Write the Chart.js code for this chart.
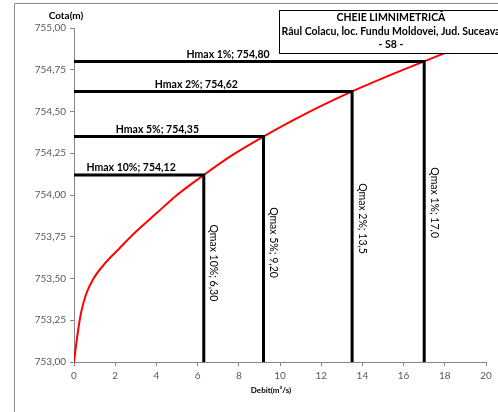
<!DOCTYPE html>
<html>
<head>
<meta charset="utf-8">
<script src="https://cdn.jsdelivr.net/npm/chart.js@4.4.0/dist/chart.umd.min.js"></script>
<style>
  html, body { margin: 0; padding: 0; background: #fff; }
  #wrap { width: 498px; height: 412px; }
</style>
</head>
<body>
<div id="wrap"><canvas id="cheie" width="498" height="412"></canvas></div>
<script>
// rating curve H = f(Q)
const curveQ = [0, 0.1, 0.2, 0.35, 0.6, 0.95, 1.5, 2.2, 3.0, 4.0, 5.0, 6.3, 7.7, 9.2, 11.3, 13.5, 15.0, 17.0, 18.0];
const curveH = [753.00, 753.10, 753.19, 753.30, 753.41, 753.50, 753.59, 753.68, 753.78, 753.89, 754.00, 754.12, 754.24, 754.35, 754.49, 754.62, 754.70, 754.80, 754.85];

// design floods
const probs = ['1%', '2%', '5%', '10%'];
const qmax = [17.0, 13.5, 9.20, 6.30];
const qDecimals = [1, 1, 2, 2];
const hmax = [754.80, 754.62, 754.35, 754.12];

const xTicks = { min: 0, max: 20, step: 2 };
const yTicks = { min: 753, max: 755, step: 0.25 };

const titleLines = ['CHEIE LIMNIMETRICĂ', 'Râul Colacu, loc. Fundu Moldovei, Jud. Suceava', '- S8 -'];

const FONT = 'Lato, "Liberation Sans", sans-serif';
const fmt = (v, d) => v.toFixed(d).replace('.', ',');

const datasets = [{
  data: curveQ.map((q, i) => ({ x: q, y: curveH[i] })),
  showLine: true,
  borderColor: '#ff0000',
  borderWidth: 2,
  pointRadius: 0,
  cubicInterpolationMode: 'monotone',
  order: 2
}];
probs.forEach((p, i) => {
  datasets.push({
    data: [{ x: 0, y: hmax[i] }, { x: qmax[i], y: hmax[i] }, { x: qmax[i], y: yTicks.min }],
    showLine: true,
    borderColor: '#000',
    borderWidth: 3,
    pointRadius: 0,
    tension: 0,
    borderJoinStyle: 'miter',
    order: 1
  });
});

const decor = {
  id: 'decor',
  beforeDraw(chart) {
    const c = chart.ctx;
    c.save();
    c.fillStyle = '#fff';
    c.fillRect(0, 0, chart.width, chart.height);
    // outer frame
    c.strokeStyle = '#8c8c8c';
    c.lineWidth = 1;
    c.beginPath();
    c.moveTo(14.5, chart.height);
    c.lineTo(14.5, 3.5);
    c.lineTo(chart.width, 3.5);
    c.stroke();
    c.restore();
  },
  afterDatasetsDraw(chart) {
    const c = chart.ctx;
    const xs = chart.scales.x, ys = chart.scales.y;
    const area = chart.chartArea;
    c.save();
    c.fillStyle = '#000';

    // Hmax labels above the horizontal lines
    c.font = 'bold 10.5px ' + FONT;
    c.textAlign = 'center';
    c.textBaseline = 'middle';
    probs.forEach((p, i) => {
      c.fillText('Hmax ' + p + '; ' + fmt(hmax[i], 2), xs.getPixelForValue(qmax[i] * 0.44), ys.getPixelForValue(hmax[i]) - 7);
    });

    // Qmax labels along the vertical lines
    c.font = '10.5px ' + FONT;
    probs.forEach((p, i) => {
      const px = xs.getPixelForValue(qmax[i]) + 10;
      const py = ys.getPixelForValue(yTicks.min + (hmax[i] - yTicks.min) * 0.53);
      c.save();
      c.translate(px, py);
      c.rotate(Math.PI / 2);
      c.fillText('Qmax ' + p + '; ' + fmt(qmax[i], qDecimals[i]), 0, 0);
      c.restore();
    });

    // axis titles
    c.fillStyle = '#000';
    c.font = 'bold 10px ' + FONT;
    c.fillText('Cota(m)', 66, 16);
    c.font = 'bold 8px ' + FONT;
    c.fillText('Debit(m³/s)', (area.left + area.right) / 2 - 9, 390);

    // title box
    const bx = 279.5, by = 10.5, bw = 240, bh = 43;
    c.fillStyle = '#fff';
    c.fillRect(bx, by, bw, bh);
    c.strokeStyle = '#000';
    c.lineWidth = 1;
    c.strokeRect(bx, by, bw, bh);
    c.fillStyle = '#000';
    c.font = 'bold 10.5px ' + FONT;
    titleLines.forEach((t, i) => c.fillText(t, 391, 18 + i * 13.5));
    c.restore();
  }
};

new Chart(document.getElementById('cheie'), {
  type: 'scatter',
  data: { datasets },
  options: {
    responsive: false,
    animation: false,
    devicePixelRatio: 1,
    layout: { padding: { left: 0, right: 12, top: 28, bottom: 0 } },
    plugins: { legend: { display: false }, tooltip: { enabled: false } },
    scales: {
      x: {
        type: 'linear',
        min: xTicks.min, max: xTicks.max,
        afterFit: s => { s.height = 50; },
        border: { color: '#868686', width: 1 },
        grid: { drawOnChartArea: false, tickLength: 4, color: '#868686' },
        ticks: { stepSize: xTicks.step, color: '#595959', font: { family: FONT, size: 10 }, padding: 4 }
      },
      y: {
        type: 'linear',
        min: yTicks.min, max: yTicks.max,
        afterFit: s => { s.width = 74; },
        border: { color: '#868686', width: 1 },
        grid: { drawOnChartArea: false, tickLength: 4, color: '#868686' },
        ticks: { stepSize: yTicks.step, color: '#595959', font: { family: FONT, size: 10 }, padding: 4,
          callback: v => fmt(v, 2) }
      }
    }
  },
  plugins: [decor]
});
</script>
</body>
</html>
